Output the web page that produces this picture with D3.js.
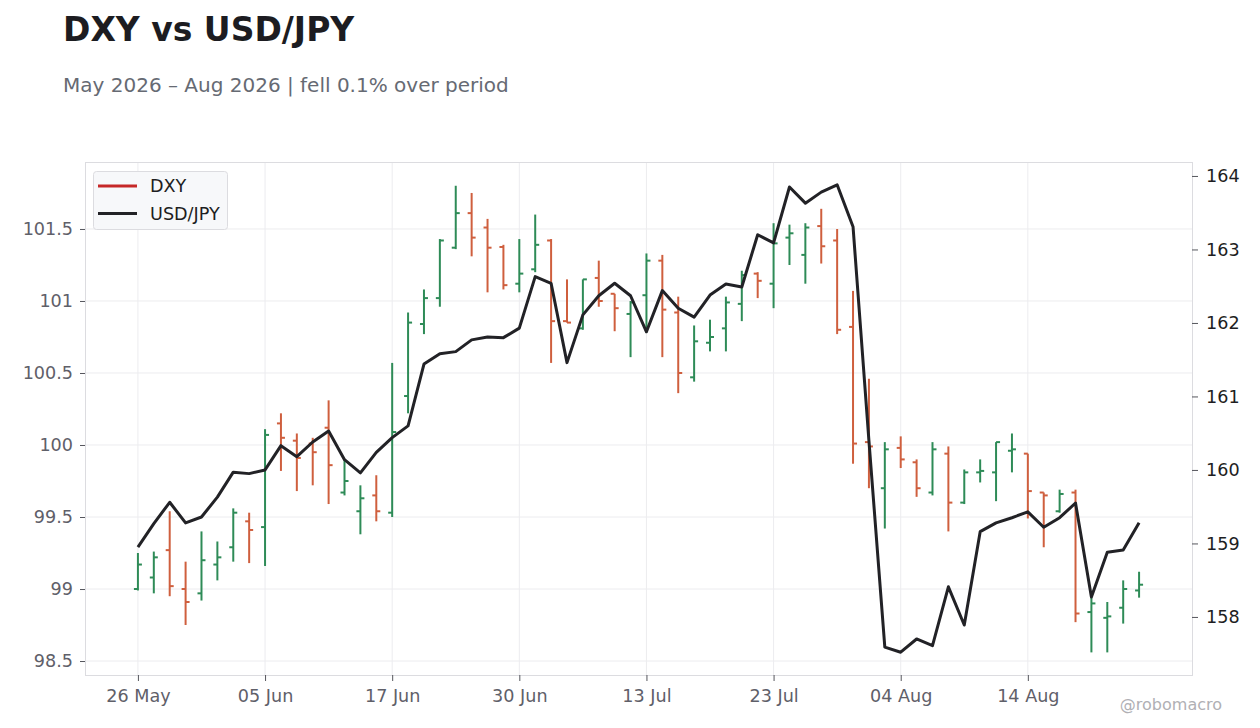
<!DOCTYPE html>
<html>
<head>
<meta charset="utf-8">
<script src="https://cdn.jsdelivr.net/npm/d3@7"></script>
<style>
  body { margin: 0; background: #fff; }
  svg { font-family: "DejaVu Sans", sans-serif; }
</style>
</head>
<body>
<script>
var w = 1260;
var h = 728;

var dates = ["2026-05-26","2026-05-27","2026-05-28","2026-05-29",
	"2026-06-01","2026-06-02","2026-06-03","2026-06-04","2026-06-05",
	"2026-06-08","2026-06-09","2026-06-10","2026-06-11","2026-06-12",
	"2026-06-15","2026-06-16","2026-06-17","2026-06-18",
	"2026-06-22","2026-06-23","2026-06-24","2026-06-25","2026-06-26",
	"2026-06-29","2026-06-30","2026-07-01","2026-07-02",
	"2026-07-06","2026-07-07","2026-07-08","2026-07-09","2026-07-10",
	"2026-07-13","2026-07-14","2026-07-15","2026-07-16","2026-07-17",
	"2026-07-20","2026-07-21","2026-07-22","2026-07-23","2026-07-24",
	"2026-07-27","2026-07-28","2026-07-29","2026-07-30","2026-07-31",
	"2026-08-03","2026-08-04","2026-08-05","2026-08-06","2026-08-07",
	"2026-08-10","2026-08-11","2026-08-12","2026-08-13","2026-08-14",
	"2026-08-17","2026-08-18","2026-08-19","2026-08-20","2026-08-21",
	"2026-08-24","2026-08-25"];

// DXY ohlc
var dxyOpen = [99.00, 99.08, 99.27, 99.00, 98.97, 99.17, 99.29, 99.47, 99.43, 100.15,
	100.03, 100.01, 100.12, 99.67, 99.54, 99.65, 99.53, 100.34, 100.84, 101.02,
	101.37, 101.61, 101.51, 101.375, 101.12, 101.22, 101.42, 100.86, 100.81, 101.16,
	101.05, 100.91, 101.04, 101.28, 100.92, 100.47, 100.71, 100.81, 100.98, 101.19,
	101.12, 101.44, 101.32, 101.52, 101.42, 100.82, 100.02, 99.70, 99.98, 99.88,
	99.67, 99.94, 99.60, 99.81, 99.81, 99.96, 99.94, 99.67, 99.54, 99.67,
	98.84, 98.80, 98.87, 98.99];
var dxyHigh = [99.25, 99.26, 99.54, 99.19, 99.40, 99.33, 99.56, 99.53, 100.11, 100.22,
	100.08, 100.05, 100.31, 99.90, 99.72, 99.79, 100.57, 100.92, 101.08, 101.43,
	101.80, 101.75, 101.57, 101.39, 101.43, 101.60, 101.43, 101.15, 101.15, 101.28,
	101.05, 101.00, 101.33, 101.32, 101.03, 100.83, 100.87, 101.03, 101.21, 101.20,
	101.54, 101.53, 101.54, 101.64, 101.50, 101.07, 100.46, 100.02, 100.06, 99.90,
	100.02, 99.99, 99.83, 99.90, 100.02, 100.08, 99.94, 99.67, 99.69, 99.69,
	98.94, 98.91, 99.06, 99.12];
var dxyLow = [98.99, 98.97, 98.95, 98.75, 98.92, 99.06, 99.19, 99.18, 99.16, 99.82,
	99.68, 99.72, 99.59, 99.65, 99.38, 99.47, 99.50, 100.22, 100.77, 100.96,
	101.36, 101.31, 101.06, 101.08, 101.06, 101.20, 100.57, 100.85, 100.80, 100.96,
	100.79, 100.61, 100.78, 100.61, 100.36, 100.44, 100.65, 100.65, 100.86, 101.02,
	100.95, 101.25, 101.12, 101.26, 100.77, 99.87, 99.70, 99.42, 99.84, 99.64,
	99.65, 99.40, 99.59, 99.74, 99.61, 99.81, 99.49, 99.29, 99.53, 98.77,
	98.56, 98.56, 98.76, 98.94];
var dxyClose = [99.17, 99.22, 99.02, 98.91, 99.20, 99.22, 99.53, 99.41, 100.07, 100.05,
	99.91, 99.95, 99.86, 99.75, 99.63, 99.54, 100.09, 100.85, 101.02, 101.42,
	101.61, 101.44, 101.37, 101.11, 101.19, 101.39, 100.86, 100.85, 101.15, 101.00,
	100.95, 100.99, 101.28, 100.94, 100.50, 100.72, 100.75, 100.99, 101.18, 101.14,
	101.40, 101.47, 101.51, 101.38, 100.80, 100.01, 99.99, 99.97, 99.90, 99.70,
	99.97, 99.60, 99.81, 99.82, 100.02, 99.97, 99.68, 99.65, 99.66, 98.83,
	98.90, 98.81, 99.00, 99.03];

var usdjpy = [158.95, 159.27, 159.56, 159.28, 159.36, 159.63, 159.97, 159.95, 160.00, 160.33,
	160.18, 160.38, 160.53, 160.14, 159.96, 160.24, 160.44, 160.60, 161.44, 161.58,
	161.61, 161.77, 161.81, 161.80, 161.93, 162.63, 162.54, 161.46, 162.11, 162.37,
	162.54, 162.37, 161.88, 162.44, 162.20, 162.08, 162.38, 162.53, 162.49, 163.20,
	163.09, 163.85, 163.63, 163.78, 163.88, 163.31, 160.40, 157.59, 157.52, 157.70,
	157.61, 158.41, 157.89, 159.16, 159.28, 159.35, 159.43, 159.22, 159.35, 159.55,
	158.27, 158.88, 158.91, 159.28];

var leftTicks = [98.5, 99, 99.5, 100, 100.5, 101, 101.5];
var rightTicks = [158, 159, 160, 161, 162, 163, 164];
var tickEvery = 8;

var margin = {top: 162, right: 68, bottom: 53, left: 85};
var upColor = "#2e8b57";
var downColor = "#cf5f3e";

var parse = d3.timeParse("%Y-%m-%d");
var fmt = d3.timeFormat("%d %b");

var xScale = d3.scalePoint()
	.domain(dates)
	.range([margin.left, w - margin.right])
	.padding(3.33);

var yScale = d3.scaleLinear()
	.domain([98.403, 101.965])
	.range([h - margin.bottom, margin.top]);

var y2Scale = d3.scaleLinear()
	.domain([157.21, 164.19])
	.range([h - margin.bottom, margin.top]);

var svg = d3.select("body")
	.append("svg")
	.attr("width", w)
	.attr("height", h);

// title + subtitle
svg.append("text")
	.attr("x", 63)
	.attr("y", 41)
	.attr("font-size", 33)
	.attr("font-weight", "bold")
	.attr("fill", "#1c1c21")
	.text("DXY vs USD/JPY");

svg.append("text")
	.attr("x", 63)
	.attr("y", 92)
	.attr("font-size", 20)
	.attr("fill", "#666a73")
	.text("May 2026 \u2013 Aug 2026 | fell 0.1% over period");

// grid
var grid = svg.append("g");
grid.selectAll(".hg")
	.data(leftTicks)
	.enter()
	.append("line")
	.attr("x1", margin.left)
	.attr("x2", w - margin.right)
	.attr("y1", function(d) { return yScale(d); })
	.attr("y2", function(d) { return yScale(d); })
	.attr("stroke", "#ececef")
	.attr("stroke-width", 1);

var xTickDates = dates.filter(function(d, i) { return i % tickEvery === 0; });

grid.selectAll(".vg")
	.data(xTickDates)
	.enter()
	.append("line")
	.attr("x1", function(d) { return xScale(d); })
	.attr("x2", function(d) { return xScale(d); })
	.attr("y1", margin.top)
	.attr("y2", h - margin.bottom)
	.attr("stroke", "#ececef")
	.attr("stroke-width", 1);

// frame
svg.append("rect")
	.attr("x", margin.left + 0.5)
	.attr("y", margin.top + 0.5)
	.attr("width", w - margin.left - margin.right)
	.attr("height", h - margin.top - margin.bottom)
	.attr("fill", "none")
	.attr("stroke", "#dcdce0");

// axes
var leftAxis = svg.append("g")
	.attr("transform", "translate(" + margin.left + ",0)")
	.call(d3.axisLeft(yScale).tickValues(leftTicks).tickSize(5).tickPadding(7)
		.tickFormat(function(d) { return String(d); }));

var rightAxis = svg.append("g")
	.attr("transform", "translate(" + (w - margin.right) + ",0)")
	.call(d3.axisRight(y2Scale).tickValues(rightTicks).tickSize(6).tickPadding(8)
		.tickFormat(function(d) { return String(d); }));

var bottomAxis = svg.append("g")
	.attr("transform", "translate(0," + (h - margin.bottom) + ")")
	.call(d3.axisBottom(xScale).tickValues(xTickDates).tickSize(6).tickPadding(9)
		.tickFormat(function(d) { return fmt(parse(d)); }));

[leftAxis, rightAxis, bottomAxis].forEach(function(a) {
	a.select(".domain").remove();
	a.selectAll("text")
		.attr("font-family", "DejaVu Sans")
		.attr("font-size", 17.6)
		.attr("fill", "#5f6069");
	a.selectAll("line").attr("stroke", "#55565c");
});
rightAxis.selectAll("text").attr("fill", "#1e1e22");

// ohlc bars
var idx = d3.range(dates.length);
var bars = svg.append("g")
	.selectAll("g")
	.data(idx)
	.enter()
	.append("g")
	.attr("stroke", function(i) {
		return dxyClose[i] >= dxyOpen[i] ? upColor : downColor;
	})
	.attr("stroke-width", 2);

bars.append("line")
	.attr("x1", function(i) { return xScale(dates[i]); })
	.attr("x2", function(i) { return xScale(dates[i]); })
	.attr("y1", function(i) { return yScale(dxyHigh[i]); })
	.attr("y2", function(i) { return yScale(dxyLow[i]); });

bars.append("line")
	.attr("x1", function(i) { return xScale(dates[i]) - 4; })
	.attr("x2", function(i) { return xScale(dates[i]); })
	.attr("y1", function(i) { return yScale(dxyOpen[i]); })
	.attr("y2", function(i) { return yScale(dxyOpen[i]); });

bars.append("line")
	.attr("x1", function(i) { return xScale(dates[i]); })
	.attr("x2", function(i) { return xScale(dates[i]) + 4; })
	.attr("y1", function(i) { return yScale(dxyClose[i]); })
	.attr("y2", function(i) { return yScale(dxyClose[i]); });

// usd/jpy line
var line = d3.line()
	.x(function(d, i) { return xScale(dates[i]); })
	.y(function(d) { return y2Scale(d); });

svg.append("path")
	.datum(usdjpy)
	.attr("d", line)
	.attr("fill", "none")
	.attr("stroke", "#222226")
	.attr("stroke-width", 3)
	.attr("stroke-linejoin", "round");

// legend
var legend = svg.append("g");
legend.append("rect")
	.attr("x", 93.5)
	.attr("y", 171.5)
	.attr("width", 134)
	.attr("height", 58)
	.attr("rx", 3)
	.attr("fill", "#f7f8fa")
	.attr("stroke", "#dcdce0");

var legendItems = [{name: "DXY", color: "#c62828"}, {name: "USD/JPY", color: "#222226"}];
var li = legend.selectAll(".li")
	.data(legendItems)
	.enter()
	.append("g")
	.attr("transform", function(d, i) { return "translate(98," + (186 + i * 27.5) + ")"; });

li.append("line")
	.attr("x1", 0)
	.attr("x2", 39)
	.attr("stroke", function(d) { return d.color; })
	.attr("stroke-width", 3);

li.append("text")
	.attr("x", 52)
	.attr("y", 6)
	.attr("font-size", 17.6)
	.attr("fill", "#1e1e22")
	.text(function(d) { return d.name; });

// watermark
svg.append("text")
	.attr("x", 1222)
	.attr("y", 710)
	.attr("text-anchor", "end")
	.attr("font-size", 16)
	.attr("fill", "#b0b0b4")
	.text("@robomacro");
</script>
</body>
</html>
